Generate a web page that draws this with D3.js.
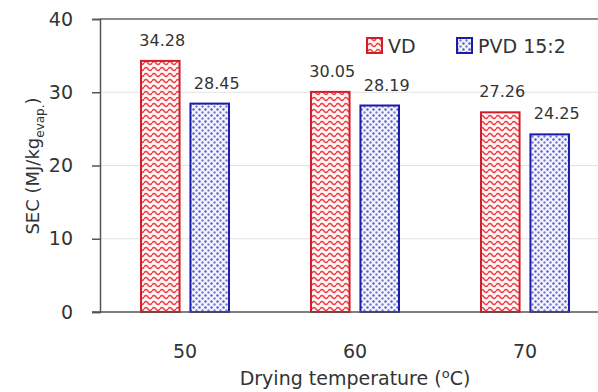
<!DOCTYPE html>
<html><head><meta charset="utf-8">
<script src="https://cdn.jsdelivr.net/npm/d3@7/dist/d3.min.js"></script>
<style>body{margin:0;background:#fff}svg{display:block;font-family:"DejaVu Sans",Verdana,sans-serif}</style>
</head><body>
<script>
const categories = ["50","60","70"];
const seriesNames = ["VD","PVD 15:2"];
const vd = [34.28, 30.05, 27.26];
const pvd = [28.45, 28.19, 24.25];
const yTicks = [0,10,20,30,40];

const W=598,H=392;
const svg=d3.select("body").append("svg").attr("width",W).attr("height",H);
const defs=svg.append("defs");
// VD wavy pattern
const p1=defs.append("pattern").attr("id","pVD").attr("patternUnits","userSpaceOnUse").attr("width",8).attr("height",6);
p1.append("rect").attr("width",8).attr("height",6).attr("fill","#fff3f3");
p1.append("path").attr("d","M0,3 Q2,0 4,3 T8,3").attr("fill","none").attr("stroke","#ea3a42").attr("stroke-width",1.4);
// PVD dot pattern
const p2=defs.append("pattern").attr("id","pPVD").attr("patternUnits","userSpaceOnUse").attr("width",6).attr("height",6);
p2.append("rect").attr("width",6).attr("height",6).attr("fill","#f4f4fc");
p2.append("circle").attr("cx",1.5).attr("cy",1.5).attr("r",1.2).attr("fill","#5a5ac8");
p2.append("circle").attr("cx",4.5).attr("cy",4.5).attr("r",1.2).attr("fill","#7a7ad8");

const x0=100, x1=610, yTop=19, yBot=312;
const x=d3.scaleBand().domain(categories).range([x0,x1]).paddingInner(0).paddingOuter(0);
const y=d3.scaleLinear().domain([0,40]).range([yBot,yTop]);
const xs=d3.scaleBand().domain(seriesNames).range([-44,44]).paddingInner(0.22);

// gridlines
svg.append("g").selectAll("line").data(yTicks.filter(t=>t>0&&t<40)).join("line")
 .attr("x1",x0).attr("x2",W).attr("y1",d=>y(d)).attr("y2",d=>y(d))
 .attr("stroke","#e2e2e2").attr("stroke-width",1);
// top border
svg.append("line").attr("x1",x0).attr("x2",W).attr("y1",y(40)).attr("y2",y(40)).attr("stroke","#666").attr("stroke-width",1.5);

// y axis
const ya=svg.append("g").attr("transform",`translate(${x0},0)`)
 .call(d3.axisLeft(y).tickValues(yTicks).tickSize(8).tickPadding(19));
ya.select(".domain").attr("stroke","#555").attr("stroke-width",1.5);
ya.selectAll(".tick line").attr("stroke","#555").attr("stroke-width",1.5);
ya.selectAll("text").attr("font-size",19).attr("fill","#333").attr("font-family","DejaVu Sans");

// bars
const data=[];
categories.forEach((c,i)=>{data.push({c,s:seriesNames[0],v:vd[i]});data.push({c,s:seriesNames[1],v:pvd[i]});});
const bx=d=>x(d.c)+x.bandwidth()/2+xs(d.s);
svg.append("g").selectAll("rect").data(data).join("rect")
 .attr("x",bx).attr("width",xs.bandwidth())
 .attr("y",d=>y(d.v)).attr("height",d=>y(0)-y(d.v))
 .attr("fill",d=>d.s==="VD"?"url(#pVD)":"url(#pPVD)")
 .attr("stroke",d=>d.s==="VD"?"#d01f2a":"#1c1caa").attr("stroke-width",2);
svg.append("g").selectAll("text").data(data).join("text")
 .attr("x",d=>bx(d)+xs.bandwidth()/2+(d.s==="VD"?2:7)).attr("y",d=>y(d.v)-15)
 .attr("text-anchor","middle").attr("font-size",16).attr("fill","#333").text(d=>d.v.toFixed(2));

// x axis line
svg.append("line").attr("x1",92).attr("x2",W).attr("y1",yBot).attr("y2",yBot).attr("stroke","#555").attr("stroke-width",1.5);
svg.append("g").selectAll("text").data(categories).join("text")
 .attr("x",d=>x(d)+x.bandwidth()/2).attr("y",358).attr("text-anchor","middle")
 .attr("font-size",19).attr("fill","#333").text(d=>d);

// x title
const xt=svg.append("text").attr("x",355).attr("y",385).attr("text-anchor","middle").attr("font-size",19).attr("fill","#333");
xt.append("tspan").text("Drying temperature (");
xt.append("tspan").attr("dy",-7).attr("font-size",13).text("o");
xt.append("tspan").attr("dy",7).text("C)");

// y title
const yt=svg.append("text").attr("transform","translate(39,166) rotate(-90)").attr("text-anchor","middle").attr("font-size",18).attr("fill","#333");
yt.append("tspan").text("SEC (MJ/kg");
yt.append("tspan").attr("dy",5).attr("font-size",12).text("evap.");
yt.append("tspan").attr("dy",-5).text(")");

// legend
const lg=svg.append("g");
const lx=[367,457];
seriesNames.forEach((s,i)=>{
 lg.append("rect").attr("x",lx[i]).attr("y",38).attr("width",15).attr("height",15)
  .attr("fill",i===0?"url(#pVD)":"url(#pPVD)").attr("stroke",i===0?"#d01f2a":"#1c1caa").attr("stroke-width",2);
 lg.append("text").attr("x",lx[i]+21).attr("y",53).attr("font-size",19).attr("fill","#333").text(s);
});
</script>
</body></html>
